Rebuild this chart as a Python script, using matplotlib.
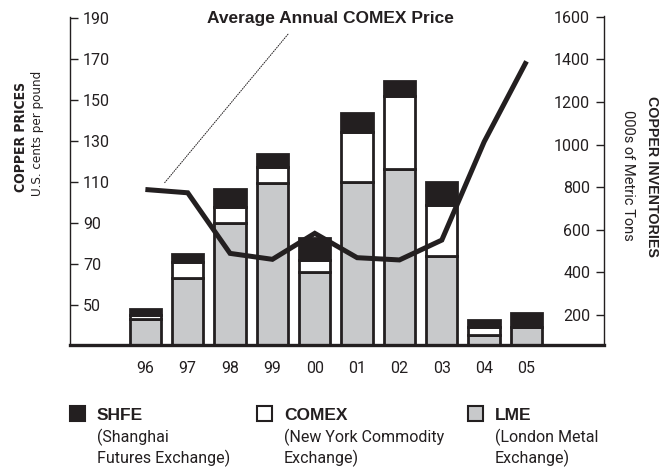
import matplotlib
matplotlib.use("Agg")
import matplotlib.pyplot as plt
from matplotlib.patches import Rectangle

# ========= Datos ========= #
anios = ["96", "97", "98", "99", "00", "01", "02", "03", "04", "05"]
precio_comex = [106.4, 104.8, 75.2, 72.3, 85.0, 73.1, 72.0, 81.7, 129.7, 169.0]  # cents/lb
inv_lme = [181, 372, 630, 821, 403, 826, 884, 475, 106, 142]     # 000s t
inv_comex = [21, 75, 79, 75, 55, 232, 344, 241, 36, 2]
inv_shfe = [26, 40, 83, 61, 102, 89, 71, 107, 35, 66]

ticks_precio = [50, 70, 90, 110, 130, 150, 170, 190]
ticks_inv = [200, 400, 600, 800, 1000, 1200, 1400, 1600]

NEGRO = "#231f20"
GRIS = "#c8c9cb"
LIGHT = dict(family=["Roboto", "DejaVu Sans"], weight="normal")
BOLD = dict(family=["Liberation Sans", "DejaVu Sans"], weight="bold")
NARROW = dict(family=["Liberation Sans Narrow", "DejaVu Sans"], stretch="condensed")

fig = plt.figure(figsize=(6.72, 4.70), dpi=100)
ax1 = fig.add_axes([70 / 672, 1 - 344.5 / 470, 534 / 672, 328 / 470])
ax2 = ax1.twinx()
ax1.set_zorder(2)
ax1.patch.set_visible(False)

x = list(range(len(anios)))

# ========== Barras de inventarios (eje derecho) ========== #
base_comex = inv_lme
base_shfe = [a + b for a, b in zip(inv_lme, inv_comex)]
kw = dict(width=0.74, edgecolor=NEGRO, linewidth=2.0)
ax2.bar(x, inv_lme, color=GRIS, **kw)
ax2.bar(x, inv_comex, bottom=base_comex, color="white", **kw)
ax2.bar(x, inv_shfe, bottom=base_shfe, color=NEGRO, **kw)

# ========== Linea de precio (eje izquierdo) ========== #
ax1.plot(x, precio_comex, color=NEGRO, linewidth=3.6,
         solid_joinstyle="miter", solid_capstyle="butt")
ax1.annotate("", xy=(x[0] + 0.41, precio_comex[0] + 2.2), xytext=(3.41, 183.3),
             arrowprops=dict(arrowstyle="-", linestyle=(0, (1, 1.5)),
                             linewidth=0.7, color=NEGRO))

# ========== Ejes ========== #
ax1.set_xlim(-1.78, 10.83)
ax1.set_ylim(30.7, 190.9)
ax2.set_ylim(61.5, 1601)

for s in ["top", "right"]:
    ax1.spines[s].set_visible(False)
ax1.spines["left"].set_linewidth(1.0)
ax1.spines["left"].set_color(NEGRO)
ax1.spines["bottom"].set_linewidth(2.4)
ax1.spines["bottom"].set_color(NEGRO)
for s in ["top", "left", "bottom"]:
    ax2.spines[s].set_visible(False)
ax2.spines["right"].set_linewidth(1.0)
ax2.spines["right"].set_color(NEGRO)

ax1.set_yticks(ticks_precio)
ax1.set_yticklabels([str(t) for t in ticks_precio], **LIGHT)
ax1.tick_params(axis="y", direction="in", length=6, width=1, color=NEGRO,
                pad=-9.4, labelsize=11.5, labelcolor=NEGRO)
for lbl in ax1.get_yticklabels():
    lbl.set_horizontalalignment("left")

ax2.set_yticks(ticks_inv)
ax2.set_yticklabels([str(t) for t in ticks_inv], **LIGHT)
ax2.tick_params(axis="y", direction="in", length=6, width=1, color=NEGRO,
                pad=-10, labelsize=11.5, labelcolor=NEGRO)
for lbl in ax2.get_yticklabels():
    lbl.set_horizontalalignment("right")

ax1.set_xticks(x)
ax1.set_xticklabels(anios, **LIGHT)
ax1.tick_params(axis="x", length=0, pad=12, labelsize=11.5, labelcolor=NEGRO)

# ========== Textos ========== #
fig.text(330 / 672, 1 - 18 / 470, "Average Annual COMEX Price", ha="center",
         va="center", fontsize=12.5, color=NEGRO, **BOLD)
fig.text(21 / 672, 1 - 137 / 470, "COPPER PRICES", rotation=90, ha="center",
         va="center", fontsize=10, weight="bold", color=NEGRO, **NARROW)
fig.text(37 / 672, 1 - 133 / 470, "U.S. cents per pound", rotation=90,
         ha="center", va="center", fontsize=9.5, color=NEGRO, **NARROW)
fig.text(652 / 672, 1 - 176 / 470, "COPPER INVENTORIES", rotation=-90,
         ha="center", va="center", fontsize=10.3, color=NEGRO, **BOLD)
fig.text(628 / 672, 1 - 175 / 470, "000s of Metric Tons", rotation=-90,
         ha="center", va="center", fontsize=10.5, color=NEGRO, **LIGHT)

# ========== Leyenda ========== #
leyenda = [
    (70, NEGRO, "SHFE", "(Shanghai", "Futures Exchange)"),
    (257, "white", "COMEX", "(New York Commodity", "Exchange)"),
    (468, GRIS, "LME", "(London Metal", "Exchange)"),
]
for px, color, nombre, l1, l2 in leyenda:
    fig.add_artist(Rectangle((px / 672, 1 - 421 / 470), 15 / 672, 15 / 470,
                             facecolor=color, edgecolor=NEGRO, linewidth=1.5,
                             transform=fig.transFigure))
    fig.text((px + 27) / 672, 1 - 415 / 470, nombre, ha="left", va="center",
             fontsize=12.5, color=NEGRO, **BOLD)
    fig.text((px + 27) / 672, 1 - 437 / 470, l1, ha="left", va="center",
             fontsize=11.5, color=NEGRO, **LIGHT)
    fig.text((px + 27) / 672, 1 - 458 / 470, l2, ha="left", va="center",
             fontsize=11.5, color=NEGRO, **LIGHT)

fig.savefig("out.png", dpi=100)
